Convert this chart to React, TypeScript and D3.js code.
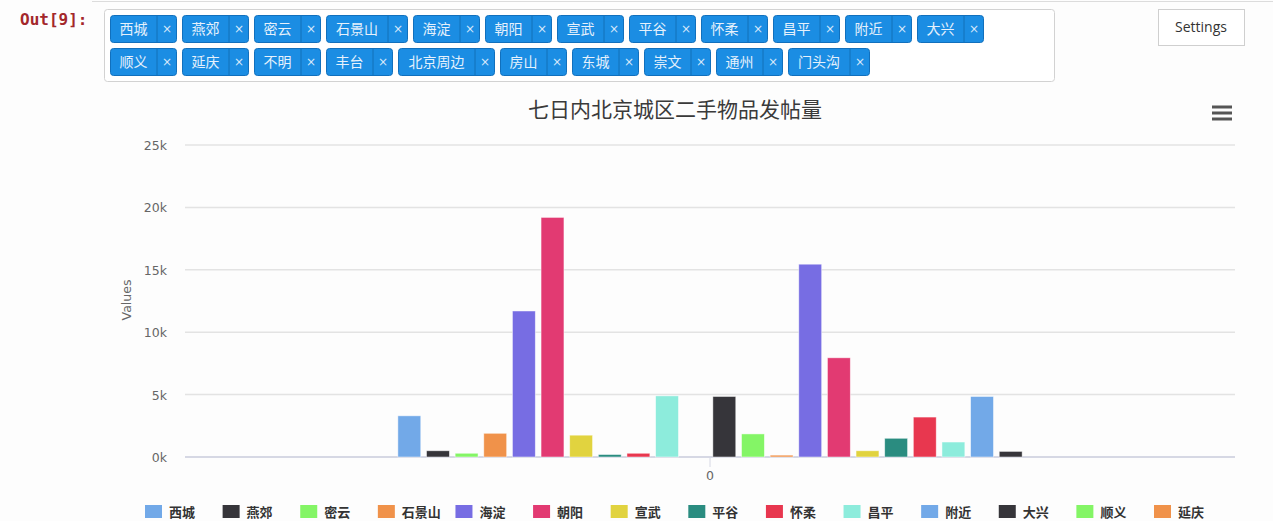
import React from 'react';
import * as d3 from 'd3';

// districts in the order of the tag widget / series order
const districts = [
  '西城', '燕郊', '密云', '石景山', '海淀', '朝阳', '宣武', '平谷', '怀柔', '昌平', '附近',
  '大兴', '顺义', '延庆', '不明', '丰台', '北京周边', '房山', '东城', '崇文', '通州', '门头沟'
];
// posts in the last seven days, one value per district
const posts = [
  3300, 500, 300, 1900, 11700, 19200, 1750, 200, 300, 4900, 0,
  4850, 1850, 150, 15450, 7950, 500, 1500, 3200, 1200, 4850, 450
];
const categories = ['0'];
const yTicks = [0, 5000, 10000, 15000, 20000, 25000];
const palette = [
  '#72a9e8', '#36353a', '#84f566', '#f0924a', '#776de3',
  '#e23a72', '#e1d33f', '#2a8c80', '#e8374f', '#8decdc'
];
const tagRows = [districts.slice(0, 12), districts.slice(12)];
// only the first legend row fits in the window, the rest is below the fold
const legendItems = districts.slice(0, 14);

const W = 1273;
const H = 521;
const cjk = '"Noto Sans CJK SC", "Noto Sans", sans-serif';

function Tag({ x, y, label }: { x: number; y: number; label: string }) {
  const textW = 15 * label.length + 17;
  const w = textW + 20;
  return (
    <g transform={`translate(${x},${y})`}>
      <rect x={0.5} y={0.5} width={w - 1} height={27} rx={3} fill="#1b8de3" stroke="#1170bd" />
      <line x1={textW} x2={textW} y1={1} y2={27} stroke="#1270b8" />
      <text x={textW / 2} y={19} textAnchor="middle" fill="#e6f1fc" fontSize={14} fontFamily={cjk}>{label}</text>
      <text x={textW + 10} y={18} textAnchor="middle" fill="#d5e8fa" fontSize={12} fontFamily="DejaVu Sans, sans-serif">×</text>
    </g>
  );
}

function App() {
  const plotLeft = 185;
  const plotRight = 1235;
  const plotTop = 145;
  const plotBottom = 457;

  const x0 = d3.scaleBand().domain(categories).range([plotLeft, plotRight]);
  const bw = x0.bandwidth();
  const x1 = d3
    .scaleBand()
    .domain(districts)
    .range([x0('0')! + bw * 0.2, x0('0')! + bw * 0.8])
    .paddingInner(0.2)
    .paddingOuter(0.1);
  const y = d3.scaleLinear().domain([0, 25000]).range([plotBottom, plotTop]);
  const color = d3.scaleOrdinal<string, string>().domain(districts).range(palette);

  // tag widget layout
  const tags: { x: number; y: number; label: string }[] = [];
  tagRows.forEach((row, r) => {
    let cx = 110;
    row.forEach((d) => {
      tags.push({ x: cx, y: 15 + r * 33, label: d });
      cx += 15 * d.length + 37 + 5;
    });
  });

  const legendX = d3.scalePoint().domain(legendItems).range([145, 1154]);

  return (
    <svg width={W} height={H} style={{ position: 'absolute', left: 0, top: 0, background: '#fdfdfd' }}>
      <rect width={W} height={H} fill="#fdfdfd" />
      <line x1={92} x2={W} y1={1.5} y2={1.5} stroke="#dcdcdc" />
      <text x={20} y={25} fill="#a3272b" fontSize={16} fontWeight="bold" fontFamily="DejaVu Sans Mono, monospace">Out[9]:</text>

      {/* multi-select tag box */}
      <rect x={104.5} y={9.5} width={950} height={72} rx={3} fill="#fff" stroke="#d2d2d2" />
      {tags.map((t) => <Tag key={t.label} {...t} />)}

      <rect x={1158.5} y={9.5} width={86} height={36} fill="#fff" stroke="#cfcfcf" />
      <text x={1201} y={32} textAnchor="middle" fill="#333" fontSize={14} fontFamily="Open Sans, sans-serif">Settings</text>

      {/* chart */}
      <text x={675} y={117} textAnchor="middle" fill="#3a3a3a" fontSize={21} fontFamily={cjk}>七日内北京城区二手物品发帖量</text>
      <g stroke="#555" strokeWidth={3}>
        {[107, 113, 119].map((yy) => <line key={yy} x1={1212} x2={1232} y1={yy} y2={yy} />)}
      </g>

      {yTicks.map((t) => (
        <g key={t}>
          <line x1={plotLeft} x2={plotRight} y1={y(t)} y2={y(t)} stroke={t === 0 ? '#d6d8e4' : '#e3e3e3'} strokeWidth={t === 0 ? 2 : 1.5} />
          <text x={167} y={y(t) + 5} textAnchor="end" fill="#666" fontSize={12.5} fontFamily="DejaVu Sans, sans-serif">{`${t / 1000}k`}</text>
        </g>
      ))}
      <text transform="translate(131,300) rotate(-90)" textAnchor="middle" fill="#666" fontSize={12.5} fontFamily="DejaVu Sans, sans-serif">Values</text>

      {districts.map((d, i) => (
        <rect
          key={d}
          x={x1(d)}
          y={y(posts[i])}
          width={x1.bandwidth()}
          height={plotBottom - y(posts[i])}
          fill={color(d)}
          stroke="#fff"
          strokeOpacity={0.6}
          strokeWidth={0.8}
        />
      ))}

      {categories.map((c) => (
        <g key={c}>
          <line x1={x0(c)! + bw / 2} x2={x0(c)! + bw / 2} y1={plotBottom} y2={plotBottom + 10} stroke="#d6d8e4" />
          <text x={x0(c)! + bw / 2} y={480} textAnchor="middle" fill="#666" fontSize={12.5} fontFamily="DejaVu Sans, sans-serif">{c}</text>
        </g>
      ))}

      {/* legend */}
      {legendItems.map((d) => {
        const lx = legendX(d)!;
        return (
          <g key={d}>
            <rect x={lx} y={505} width={17} height={13} fill={color(d)} />
            <text x={lx + 24} y={517} fill="#333" fontSize={13} fontWeight="bold" fontFamily={cjk}>{d}</text>
          </g>
        );
      })}
    </svg>
  );
}

export default App;
